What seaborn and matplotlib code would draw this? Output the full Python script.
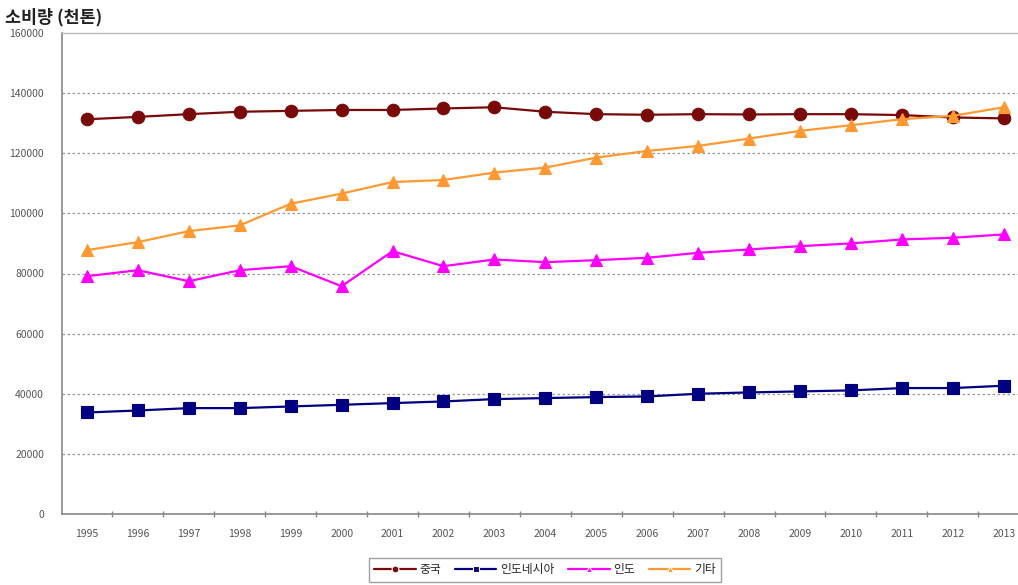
import matplotlib
matplotlib.use("Agg")
import matplotlib.pyplot as plt
import seaborn as sns
import pandas as pd
import numpy as np
from matplotlib.ticker import FixedLocator

years = [str(y) for y in range(1995, 2014)]
series_names = ["중국", "인도네시아", "인도", "기타"]
china = [131300, 132100, 133000, 133800, 134100, 134400, 134400, 134900, 135300,
         133800, 133000, 132800, 133000, 132900, 133000, 133000, 132700, 131900, 131600]
indonesia = [33770, 34430, 35220, 35220, 35770, 36330, 36890, 37440, 38220,
             38560, 38890, 39110, 40000, 40440, 40780, 41110, 41890, 41890, 42670]
india = [79100, 81100, 77430, 81100, 82430, 75770, 87430, 82430, 84670,
         83770, 84440, 85220, 86890, 88000, 89100, 90000, 91330, 91890, 93000]
other = [87770, 90440, 94100, 96000, 103200, 106570, 110430, 111100, 113570,
         115230, 118560, 120770, 122440, 124890, 127440, 129330, 131330, 132440, 135300]
yticks = [0, 20000, 40000, 60000, 80000, 100000, 120000, 140000, 160000]
title = "소비량 (천톤)"

colors = ["#7a0a0a", "#000080", "#ff00ff", "#ff9933"]
markers = ["o", "s", "^", "^"]

sns.set_theme(style="white")
plt.rcParams['font.family'] = ['Noto Sans CJK KR', 'DejaVu Sans']

df = pd.DataFrame({
    "idx": list(range(len(years))) * 4,
    "value": china + indonesia + india + other,
    "series": sum([[n] * len(years) for n in series_names], []),
})

fig = plt.figure(figsize=(10.18, 5.85), dpi=100)
ax = fig.add_axes([62 / 1018, 1 - 514 / 585, 1 - 62 / 1018, (514 - 33) / 585])

sns.lineplot(data=df, x="idx", y="value", hue="series", style="series",
             hue_order=series_names, style_order=series_names,
             palette=colors, markers=markers, dashes=False,
             markersize=9, linewidth=1.6, markeredgewidth=0.8, ax=ax)
for line, c in zip(ax.lines, colors):
    line.set_markeredgecolor(c)

ax.set_xlim(-0.49, 18.28)
ax.set_ylim(0, 160000)
ax.set_xticks(range(len(years)))
ax.set_xticklabels(years, fontsize=7.5, color="#555555")
ax.xaxis.set_minor_locator(FixedLocator([i + 0.5 for i in range(-1, len(years))]))
ax.tick_params(axis="x", which="major", length=0, pad=11)
ax.tick_params(axis="x", which="minor", length=5, direction="inout", color="#888888", bottom=True)
ax.set_yticks(yticks)
ax.set_yticklabels([str(v) for v in yticks], fontsize=7.5, color="#555555")
ax.tick_params(axis="y", length=0, pad=13)
ax.set_xlabel("")
ax.set_ylabel("")

for v in yticks[1:-1]:
    ax.axhline(v, color="#999999", linewidth=0.9, linestyle=(0, (2, 2)), zorder=0)

for s in ["left", "bottom"]:
    ax.spines[s].set_color("#888888")
    ax.spines[s].set_linewidth(1.2)
ax.spines["top"].set_color("#bbbbbb")
ax.spines["top"].set_linewidth(1.0)
ax.spines["right"].set_visible(False)

fig.text(5 / 1018, 1 - 17 / 585, title, fontsize=12.5, fontweight="bold",
         color="#222222", va="center", ha="left")

handles, labels = ax.get_legend_handles_labels()
if ax.legend_:
    ax.legend_.remove()
leg = fig.legend(handles, labels, loc="center", bbox_to_anchor=(545 / 1018, 1 - 570 / 585),
                 ncol=4, fontsize=8.5, frameon=True, fancybox=False, edgecolor="#888888",
                 handlelength=3.5, handletextpad=0.3, columnspacing=1.2, markerscale=0.55,
                 borderpad=0.45)
leg.get_frame().set_linewidth(1.0)

fig.savefig("out.png", dpi=100)
